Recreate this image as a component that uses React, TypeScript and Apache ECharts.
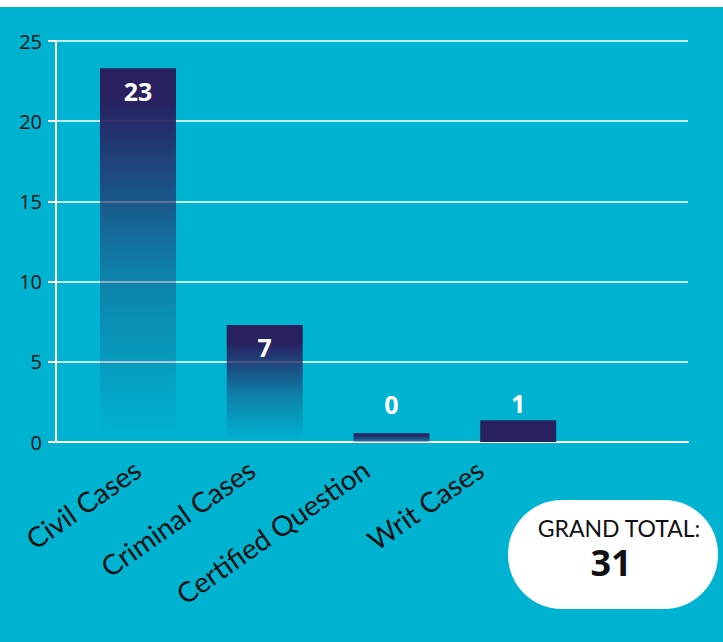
import React, { useEffect, useRef } from "react";
import * as echarts from "echarts";

const categories = ["Civil Cases", "Criminal Cases", "Certified Question", "Writ Cases"];
const caseCounts = [23, 7, 0, 1];
const barHeights = [23.3, 7.3, 0.55, 1.35];
const yTicks = [0, 5, 10, 15, 20, 25];
const grandTotal = 31;

const NAVY = "#28205f";
const BG = "#00b4d1";

function fade(stops: [number, number][]) {
  return {
    type: "linear",
    x: 0,
    y: 0,
    x2: 0,
    y2: 1,
    colorStops: stops.map(([o, a]) => ({ offset: o, color: `rgba(40,32,95,${a})` })),
  };
}

const barColors = [
  fade([[0, 1], [0.08, 1], [0.55, 0.35], [1, 0]]),
  fade([[0, 1], [0.15, 1], [0.6, 0.35], [1, 0]]),
  fade([[0, 1], [0.3, 0.95], [1, 0.35]]),
  NAVY,
];

export default function App() {
  const ref = useRef<HTMLDivElement>(null);
  useEffect(() => {
    document.body.style.margin = "0";
    const chart = echarts.init(ref.current!, null, { renderer: "svg" });
    const top = 34;
    const bottom = 200;
    const yMax = yTicks[yTicks.length - 1];
    chart.setOption({
      animation: false,
      backgroundColor: BG,
      grid: [
        { left: 56, right: 35, top, bottom },
        { left: 74.6, width: 507, top, bottom },
        { left: 80, width: 457, top, bottom },
      ],
      xAxis: [
        {
          gridIndex: 0,
          type: "category",
          data: [""],
          axisLine: { show: true, lineStyle: { color: "#ffffff", width: 2 } },
          axisTick: { show: false },
          axisLabel: { show: false },
        },
        {
          gridIndex: 1,
          type: "category",
          data: categories,
          show: false,
        },
        {
          gridIndex: 2,
          type: "category",
          data: categories,
          axisLine: { show: false },
          axisTick: { show: false },
          axisLabel: {
            rotate: 35,
            margin: 24,
            fontSize: 28,
            fontFamily: "Lato",
            color: "#111111",
            interval: 0,
          },
        },
      ],
      yAxis: [
        {
          gridIndex: 0,
          type: "value",
          min: 0,
          max: yMax,
          interval: 5,
          axisLine: { show: true, lineStyle: { color: "#ffffff", width: 2 } },
          axisTick: { show: true, length: 8, lineStyle: { color: "#ffffff", width: 2 } },
          axisLabel: {
            fontSize: 20,
            fontFamily: "Open Sans",
            color: "#111111",
            margin: 14,
          },
          splitLine: { show: true, lineStyle: { color: "#ffffff", width: 1.5 } },
        },
        { gridIndex: 1, type: "value", min: 0, max: yMax, show: false },
        { gridIndex: 2, type: "value", min: 0, max: yMax, show: false },
      ],
      series: [
        {
          type: "bar",
          xAxisIndex: 1,
          yAxisIndex: 1,
          barWidth: 76,
          data: barHeights.map((v, i) => {
            const item: any = { value: v, itemStyle: { color: barColors[i] } };
            if (i === 2) item.label = { position: "top", distance: 17 };
            if (i === 3) item.label = { position: "top", distance: 5 };
            return item;
          }),
          label: {
            show: true,
            position: "insideTop",
            distance: 10,
            color: "#ffffff",
            fontWeight: "bold",
            fontSize: 25,
            fontFamily: "Open Sans",
            formatter: (p: any) => String(caseCounts[p.dataIndex]),
          },
        },
      ],
      graphic: [
        {
          type: "rect",
          shape: { x: 508, y: 493, width: 210, height: 109, r: 54 },
          style: { fill: "#ffffff" },
        },
        {
          type: "text",
          x: 619,
          y: 521,
          style: {
            text: "GRAND TOTAL:",
            fill: "#111111",
            font: "23px Lato",
            textAlign: "center",
            textVerticalAlign: "middle",
          },
        },
        {
          type: "text",
          x: 611,
          y: 555,
          style: {
            text: String(grandTotal),
            fill: "#111111",
            font: "bold 36px 'Open Sans'",
            textAlign: "center",
            textVerticalAlign: "middle",
          },
        },
      ],
    });
    return () => chart.dispose();
  }, []);
  return (
    <div
      style={{ position: "absolute", left: 0, top: 0, width: 723, height: 642, background: "#ffffff" }}
    >
      <div ref={ref} style={{ position: "absolute", left: 0, top: 7, width: 723, height: 635 }} />
    </div>
  );
}
